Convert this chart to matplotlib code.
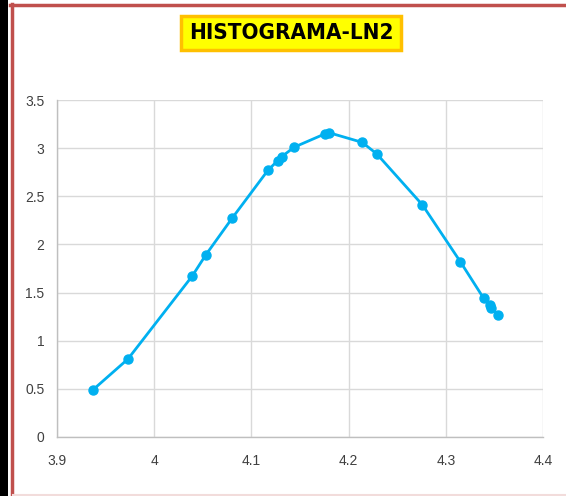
import matplotlib
matplotlib.use("Agg")
import matplotlib.pyplot as plt
from matplotlib.patches import Rectangle
from matplotlib.lines import Line2D

x_vals = [3.937, 3.973, 4.039, 4.053, 4.080, 4.117, 4.127, 4.131, 4.144,
          4.176, 4.180, 4.214, 4.229, 4.276, 4.315, 4.339, 4.345, 4.347, 4.354]
y_vals = [0.49, 0.81, 1.67, 1.89, 2.27, 2.77, 2.87, 2.91, 3.01,
          3.15, 3.16, 3.06, 2.94, 2.41, 1.82, 1.44, 1.37, 1.34, 1.27]
x_ticks = [3.9, 4.0, 4.1, 4.2, 4.3, 4.4]
x_tick_labels = ["3.9", "4", "4.1", "4.2", "4.3", "4.4"]
y_ticks = [0, 0.5, 1, 1.5, 2, 2.5, 3, 3.5]
y_tick_labels = ["0", "0.5", "1", "1.5", "2", "2.5", "3", "3.5"]
title = "HISTOGRAMA-LN2"

W, H = 566, 496
fig = plt.figure(figsize=(W / 100, H / 100), dpi=100)
fig.patch.set_facecolor("white")

# outer decorations
fig.add_artist(Rectangle((0, 0), 8 / W, 1, transform=fig.transFigure,
                         facecolor="black", edgecolor="none"))
fig.add_artist(Line2D([11.5 / W, 11.5 / W], [0, 1 - 4 / H], transform=fig.transFigure,
                      color="#C0504D", lw=2.5))
fig.add_artist(Line2D([10 / W, 1], [1 - 5 / H, 1 - 5 / H], transform=fig.transFigure,
                      color="#C0504D", lw=2.5))
fig.add_artist(Line2D([13 / W, 1], [1 - 494.5 / H, 1 - 494.5 / H], transform=fig.transFigure,
                      color="#F2DCDB", lw=1.5))

ax = fig.add_axes([57 / W, 1 - 437 / H, (543 - 57) / W, (437 - 100) / H])
ax.plot(x_vals, y_vals, color="#00B0F0", lw=2, marker="o", markersize=6.5,
        markerfacecolor="#00B0F0", markeredgecolor="#00B0F0", zorder=3, clip_on=False)
ax.set_xlim(3.9, 4.4)
ax.set_ylim(0, 3.5)
ax.set_xticks(x_ticks)
ax.set_xticklabels(x_tick_labels)
ax.set_yticks(y_ticks)
ax.set_yticklabels(y_tick_labels)
ax.grid(True, color="#D9D9D9", lw=1)
ax.set_axisbelow(True)
for s in ["top", "right"]:
    ax.spines[s].set_visible(False)
for s in ["left", "bottom"]:
    ax.spines[s].set_color("#BFBFBF")
    ax.spines[s].set_linewidth(1)
ax.tick_params(length=0, labelsize=10, labelcolor="#404040")
ax.tick_params(axis="x", pad=12)
ax.tick_params(axis="y", pad=9)
for lab in ax.get_xticklabels() + ax.get_yticklabels():
    lab.set_family("Liberation Sans")

# title box
fig.text(291 / W, 1 - 33 / H, title, ha="center", va="center",
         family=["DejaVu Sans"], fontweight="bold", fontstretch="condensed",
         fontsize=16, color="black",
         bbox=dict(boxstyle="square,pad=0.33", facecolor="#FFFF00",
                   edgecolor="#FFC000", linewidth=2.5))

fig.savefig("out.png", dpi=100, facecolor="white")
